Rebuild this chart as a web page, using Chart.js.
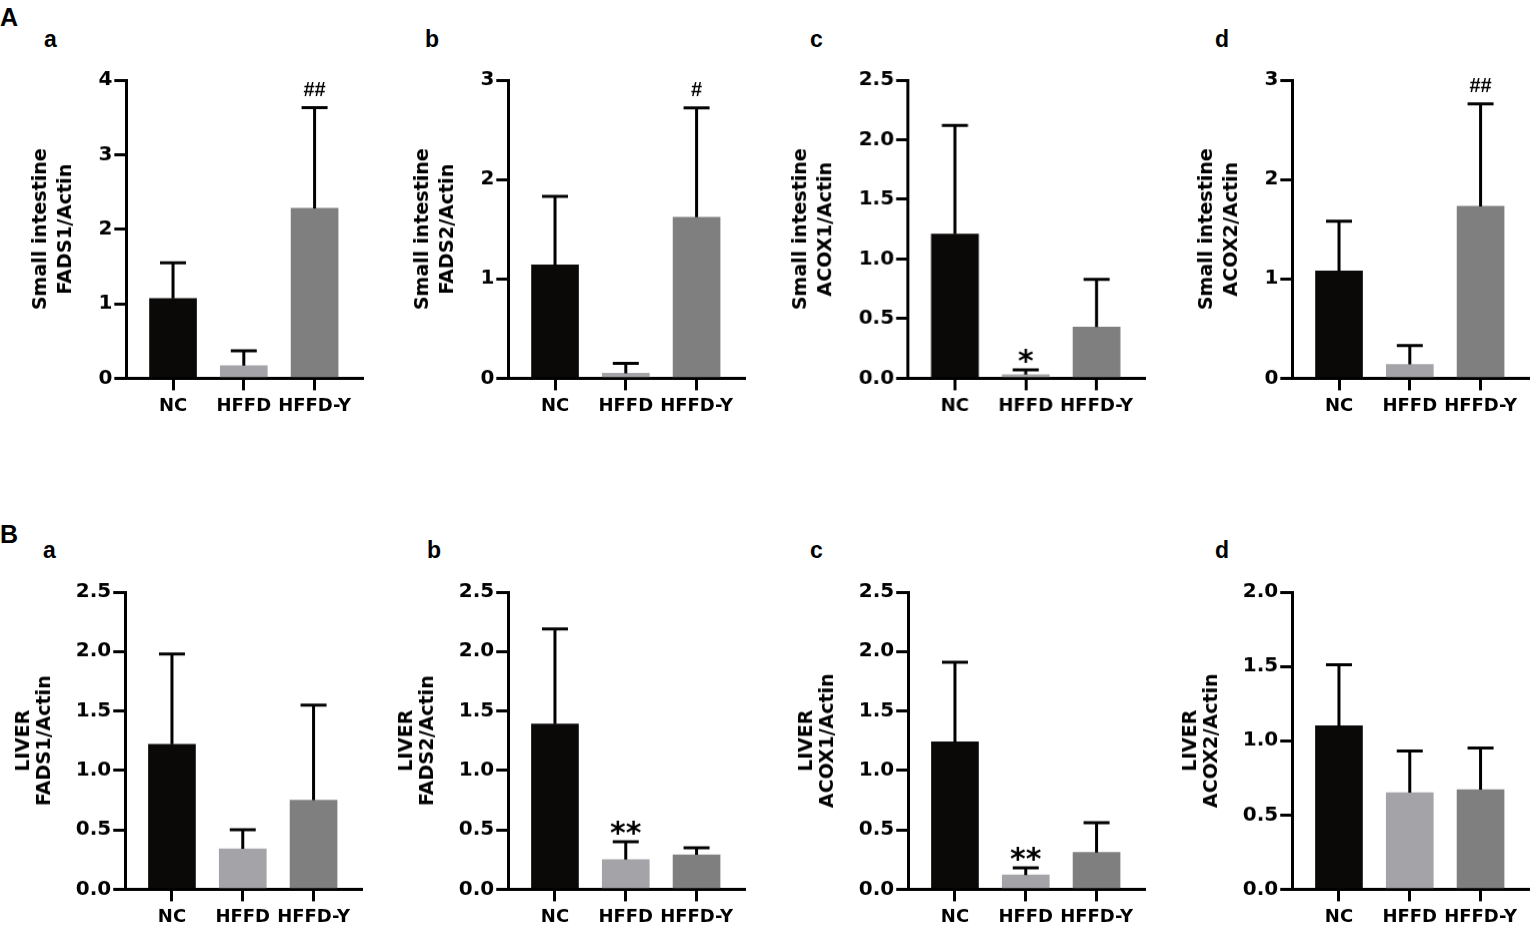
<!DOCTYPE html>
<html>
<head>
<meta charset="utf-8">
<script src="https://cdn.jsdelivr.net/npm/chart.js@4.4.1/dist/chart.umd.min.js"></script>
<style>
  body { margin:0; background:#fff; width:1530px; height:927px; position:relative; overflow:hidden;
         font-family:"Liberation Sans", Arial, sans-serif; }
  .box { position:absolute; }
  .lbl { position:absolute; font-weight:bold; color:#000; line-height:1; }
  .big { font-size:25px; }
  .small { font-size:23px; }
</style>
</head>
<body>
<div class="lbl big" style="left:0px;top:5px">A</div>
<div class="lbl big" style="left:0px;top:522px">B</div>
<div class="lbl small" style="left:44px;top:28px">a</div>
<div class="lbl small" style="left:425px;top:28px">b</div>
<div class="lbl small" style="left:810px;top:28px">c</div>
<div class="lbl small" style="left:1215px;top:28px">d</div>
<div class="lbl small" style="left:43px;top:539px">a</div>
<div class="lbl small" style="left:427px;top:539px">b</div>
<div class="lbl small" style="left:810px;top:539px">c</div>
<div class="lbl small" style="left:1215px;top:539px">d</div>
<script>
// groups on the x axis
const groups = ['NC', 'HFFD', 'HFFD-Y'];

// A: small intestine, mean and SD per group
const siFADS1Mean = [1.07, 0.17, 2.28];
const siFADS1Sd   = [0.48, 0.20, 1.35];
const siFADS2Mean = [1.14, 0.05, 1.62];
const siFADS2Sd   = [0.69, 0.10, 1.10];
const siACOX1Mean = [1.21, 0.03, 0.43];
const siACOX1Sd   = [0.91, 0.04, 0.40];
const siACOX2Mean = [1.08, 0.14, 1.73];
const siACOX2Sd   = [0.50, 0.19, 1.03];

// B: liver
const lvFADS1Mean = [1.22, 0.34, 0.75];
const lvFADS1Sd   = [0.76, 0.16, 0.80];
const lvFADS2Mean = [1.39, 0.25, 0.29];
const lvFADS2Sd   = [0.80, 0.15, 0.06];
const lvACOX1Mean = [1.24, 0.12, 0.31];
const lvACOX1Sd   = [0.67, 0.06, 0.25];
const lvACOX2Mean = [1.10, 0.65, 0.67];
const lvACOX2Sd   = [0.41, 0.28, 0.28];

// y tick labels
const ticks0to4  = ['0', '1', '2', '3', '4'];
const ticks0to3  = ['0', '1', '2', '3'];
const ticks0to25 = ['0.0', '0.5', '1.0', '1.5', '2.0', '2.5'];
const ticks0to20 = ['0.0', '0.5', '1.0', '1.5', '2.0'];

// significance marks above the bars
const marksSiFADS1 = ['', '', '##'];
const marksSiFADS2 = ['', '', '#'];
const marksSiACOX1 = ['', '*', ''];
const marksSiACOX2 = ['', '', '##'];
const marksLvFADS1 = ['', '', ''];
const marksLvFADS2 = ['', '**', ''];
const marksLvACOX1 = ['', '**', ''];
const marksLvACOX2 = ['', '', ''];

const barColors = ['#0b0808', '#a4a4a8', '#7f7f7f'];
const PLOT_W = 236;
const FONT = '"Liberation Sans", Arial, sans-serif';
const WIDE = '"DejaVu Sans", sans-serif';

const panels = [
  { x:126,  top:80,  bottom:378, lh:1.3, title:['Small intestine','FADS1/Actin'], mean:siFADS1Mean, sd:siFADS1Sd, ticks:ticks0to4,  marks:marksSiFADS1 },
  { x:508,  top:80,  bottom:378, lh:1.3, title:['Small intestine','FADS2/Actin'], mean:siFADS2Mean, sd:siFADS2Sd, ticks:ticks0to3,  marks:marksSiFADS2 },
  { x:908,  top:80,  bottom:378, lh:1.3, title:['Small intestine','ACOX1/Actin'], mean:siACOX1Mean, sd:siACOX1Sd, ticks:ticks0to25, marks:marksSiACOX1 },
  { x:1292, top:80,  bottom:378, lh:1.3, title:['Small intestine','ACOX2/Actin'], mean:siACOX2Mean, sd:siACOX2Sd, ticks:ticks0to3,  marks:marksSiACOX2 },
  { x:125,  top:592, bottom:889, lh:1.1, title:['LIVER','FADS1/Actin'], mean:lvFADS1Mean, sd:lvFADS1Sd, ticks:ticks0to25, marks:marksLvFADS1 },
  { x:508,  top:592, bottom:889, lh:1.1, title:['LIVER','FADS2/Actin'], mean:lvFADS2Mean, sd:lvFADS2Sd, ticks:ticks0to25, marks:marksLvFADS2 },
  { x:908,  top:592, bottom:889, lh:1.1, title:['LIVER','ACOX1/Actin'], mean:lvACOX1Mean, sd:lvACOX1Sd, ticks:ticks0to25, marks:marksLvACOX1 },
  { x:1292, top:592, bottom:889, lh:1.1, title:['LIVER','ACOX2/Actin'], mean:lvACOX2Mean, sd:lvACOX2Sd, ticks:ticks0to20, marks:marksLvACOX2 }
];

// upper error whiskers + significance marks
function errorPlugin(p) {
  return {
    id: 'errorBars',
    afterDraw(chart) {
      const ctx = chart.ctx;
      const xs = chart.scales.x, ys = chart.scales.y;
      ctx.save();
      ctx.strokeStyle = '#000';
      ctx.lineWidth = 3;
      p.mean.forEach((m, i) => {
        const x = xs.getPixelForValue(i);
        const y0 = ys.getPixelForValue(m);
        const y1 = ys.getPixelForValue(m + p.sd[i]);
        ctx.beginPath();
        ctx.moveTo(x, y0);
        ctx.lineTo(x, y1);
        ctx.moveTo(x - 13, y1);
        ctx.lineTo(x + 13, y1);
        ctx.stroke();
        const mk = p.marks[i];
        if (mk) {
          ctx.fillStyle = '#000';
          ctx.textAlign = 'center';
          ctx.textBaseline = 'alphabetic';
          if (mk[0] === '*') {
            ctx.font = 'bold 30px ' + WIDE;
            ctx.fillText(mk, x, y1 + 1);
          } else {
            ctx.font = 'bold 20px ' + FONT;
            ctx.fillText(mk, x, y1 - 12);
          }
        }
      });
      ctx.restore();
    }
  };
}

function config(p) {
  const yFont = { family: WIDE, size: 20, weight: 'bold' };
  const xFont = { family: WIDE, size: 18, weight: 'bold' };
  return {
    type: 'bar',
    data: {
      datasets: [{
        data: p.mean.map((v, i) => ({ x: i, y: v })),
        backgroundColor: barColors,
        borderWidth: 0,
        barThickness: 47
      }]
    },
    options: {
      responsive: false,
      maintainAspectRatio: false,
      animation: false,
      layout: { padding: { top: 4, right: 4, left: 0, bottom: 0 } },
      plugins: { legend: { display: false }, tooltip: { enabled: false } },
      scales: {
        x: {
          type: 'linear', min: -0.66, max: 2.67, z: 1, offset: false,
          afterBuildTicks: s => { s.ticks = groups.map((g, i) => ({ value: i })); },
          ticks: { callback: v => groups[v], font: xFont, color: '#000', padding: 5, maxRotation: 0, autoSkip: false },
          grid: { drawOnChartArea: false, offset: false, tickLength: 12, lineWidth: 3, color: '#000' },
          border: { width: 3, color: '#000' }
        },
        y: {
          min: 0, max: parseFloat(p.ticks[p.ticks.length - 1]), z: 1,
          afterBuildTicks: s => { s.ticks = p.ticks.map(t => ({ value: parseFloat(t) })); },
          ticks: { callback: (v, i) => p.ticks[i], font: yFont, color: '#000', padding: 2 },
          grid: { drawOnChartArea: false, tickLength: 12, lineWidth: 3, color: '#000' },
          border: { width: 3, color: '#000' },
          title: { display: true, text: p.title, color: '#000',
                   font: { family: WIDE, size: 19, weight: 'bold', lineHeight: p.lh },
                   padding: { top: 0, bottom: 18 } }
        }
      }
    },
    plugins: [errorPlugin(p)]
  };
}

function build(wrap, p, w, h) {
  const cv = document.createElement('canvas');
  cv.width = w; cv.height = h;
  cv.style.width = w + 'px'; cv.style.height = h + 'px';
  wrap.appendChild(cv);
  return new Chart(cv, config(p));
}

panels.forEach(p => {
  const wrap = document.createElement('div');
  wrap.className = 'box';
  document.body.appendChild(wrap);
  let w = 400, h = 380;
  let chart = build(wrap, p, w, h);
  const ca = chart.chartArea;
  w += PLOT_W - (ca.right - ca.left);
  h += (p.bottom - p.top) - (ca.bottom - ca.top);
  chart.destroy();
  wrap.innerHTML = '';
  chart = build(wrap, p, w, h);
  const c2 = chart.chartArea;
  wrap.style.left = (p.x - c2.left) + 'px';
  wrap.style.top = (p.top - c2.top) + 'px';
});
</script>
</body>
</html>
